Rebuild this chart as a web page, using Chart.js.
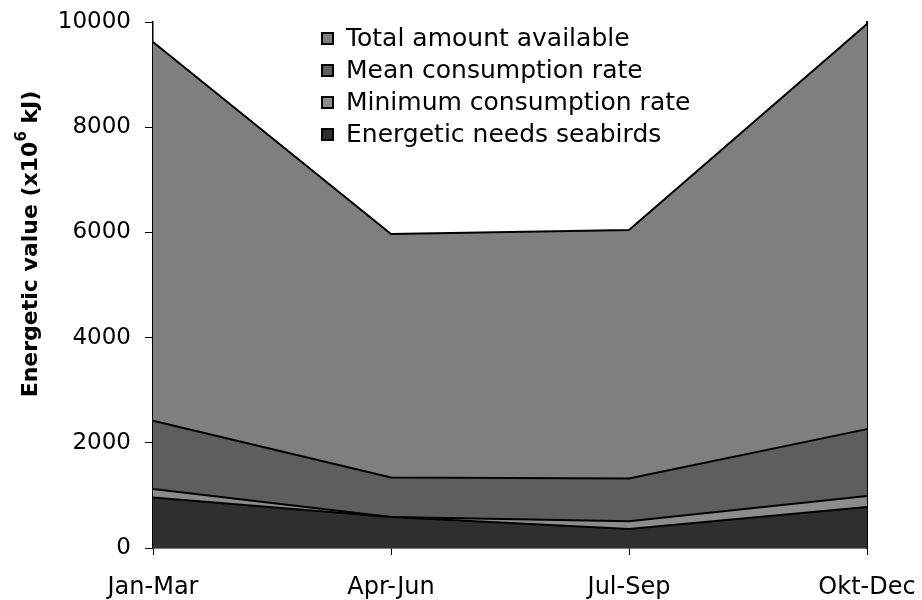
<!DOCTYPE html>
<html>
<head>
<meta charset="utf-8">
<script src="https://cdn.jsdelivr.net/npm/chart.js@4.4.0/dist/chart.umd.min.js"></script>
<style>
    html, body { margin: 0; padding: 0; background: #fff; }
    #wrap { width: 922px; height: 600px; }
</style>
</head>
<body>
<div id="wrap"><canvas id="energyChart" width="922" height="600"></canvas></div>
<script>
// Données (x10^6 kJ)
const quarters = ["Jan-Mar", "Apr-Jun", "Jul-Sep", "Okt-Dec"];
const totalAvailable = [9620, 5970, 6045, 9960];
const meanConsumption = [2420, 1340, 1320, 2260];
const minConsumption = [1120, 590, 510, 990];
const seabirdNeeds = [960, 590, 360, 780];
const yTicks = [0, 2000, 4000, 6000, 8000, 10000];

const font = "'DejaVu Sans', Verdana, sans-serif";

function area(label, data, color, order) {
    return {
        label: label,
        data: data,
        backgroundColor: color,
        borderColor: '#000',
        borderWidth: 2,
        fill: 'origin',
        pointRadius: 0,
        tension: 0,
        order: order
    };
}

// pas de marge automatique pour les libellés, la zone du graphique est fixée par layout.padding
function noAutoPadding(scale) {
    scale.paddingLeft = 0;
    scale.paddingRight = 0;
    scale.paddingTop = 0;
    scale.paddingBottom = 0;
}

// Légende dessinée dans la zone du graphique
const boxLegend = {
    id: 'boxLegend',
    afterDraw(chart) {
        const ctx = chart.ctx;
        const x = 322, y0 = 38, step = 32;
        ctx.save();
        ctx.font = "25px " + font;
        ctx.textBaseline = 'middle';
        chart.data.datasets.forEach((ds, i) => {
            const y = y0 + i * step;
            ctx.fillStyle = ds.backgroundColor;
            ctx.fillRect(x, y - 5, 11, 11);
            ctx.strokeStyle = '#000';
            ctx.lineWidth = 2;
            ctx.strokeRect(x, y - 5, 11, 11);
            ctx.fillStyle = '#000';
            ctx.fillText(ds.label, x + 24, y + 1);
        });
        ctx.restore();
    }
};

// Titre de l'axe Y avec exposant
const yTitle = {
    id: 'yTitle',
    afterDraw(chart) {
        const ctx = chart.ctx;
        const parts = [
            { t: 'Energetic value (x10', size: 22, dy: 0 },
            { t: '6', size: 15, dy: -9 },
            { t: ' kJ)', size: 22, dy: 0 }
        ];
        let total = 0;
        parts.forEach(p => {
            ctx.font = 'bold ' + p.size + 'px ' + font;
            p.w = ctx.measureText(p.t).width;
            total += p.w;
        });
        ctx.save();
        ctx.translate(30, 244);
        ctx.rotate(-Math.PI / 2);
        ctx.fillStyle = '#000';
        ctx.textBaseline = 'middle';
        let x = -total / 2;
        parts.forEach(p => {
            ctx.font = 'bold ' + p.size + 'px ' + font;
            ctx.fillText(p.t, x, p.dy + 1);
            x += p.w;
        });
        ctx.restore();
    }
};

const ctx = document.getElementById('energyChart').getContext('2d');
const energyChart = new Chart(ctx, {
    type: 'line',
    data: {
        labels: quarters,
        datasets: [
            area("Total amount available", totalAvailable, '#7f7f7f', 4),
            area("Mean consumption rate", meanConsumption, '#5e5e5e', 3),
            area("Minimum consumption rate", minConsumption, '#8c8c8c', 2),
            area("Energetic needs seabirds", seabirdNeeds, '#2f2f2f', 1)
        ]
    },
    options: {
        responsive: false,
        animation: false,
        layout: { padding: { top: 22, right: 55, left: 0, bottom: 0 } },
        plugins: {
            legend: { display: false },
            tooltip: { enabled: false }
        },
        scales: {
            x: {
                offset: false,
                grid: { display: true, drawOnChartArea: false, drawTicks: true, tickLength: 7, color: '#000' },
                border: { display: true, color: '#000', width: 1.5 },
                ticks: { color: '#000', font: { family: font, size: 24 }, padding: 18, maxRotation: 0, autoSkip: false },
                afterFit(scale) { scale.height = 52; noAutoPadding(scale); }
            },
            y: {
                min: 0,
                max: 10000,
                afterBuildTicks(scale) { scale.ticks = yTicks.map(v => ({ value: v })); },
                grid: { display: true, drawOnChartArea: false, drawTicks: true, tickLength: 8, color: '#000' },
                border: { display: true, color: '#000', width: 1.5 },
                ticks: { color: '#000', font: { family: font, size: 23 }, padding: 14, callback: v => String(v) },
                afterFit(scale) { scale.width = 153; noAutoPadding(scale); }
            },
            y2: {
                position: 'right',
                min: 0,
                max: 10000,
                grid: { display: false },
                border: { display: true, color: '#000', width: 2 },
                ticks: { display: false },
                afterFit(scale) { scale.width = 0; noAutoPadding(scale); }
            }
        }
    },
    plugins: [boxLegend, yTitle]
});
</script>
</body>
</html>
